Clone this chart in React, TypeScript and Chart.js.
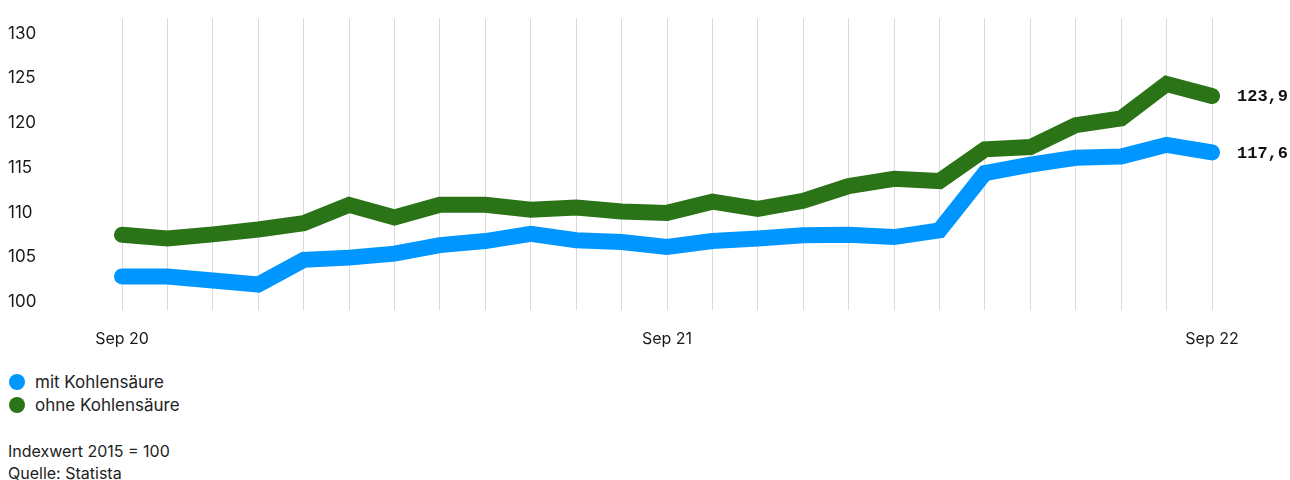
import React, { useEffect, useRef } from "react";
import { Chart, registerables } from "chart.js";

Chart.register(...registerables);

const months = [
  "Sep 20", "Okt 20", "Nov 20", "Dez 20", "Jan 21", "Feb 21", "Mär 21", "Apr 21", "Mai 21",
  "Jun 21", "Jul 21", "Aug 21", "Sep 21", "Okt 21", "Nov 21", "Dez 21", "Jan 22", "Feb 22",
  "Mär 22", "Apr 22", "Mai 22", "Jun 22", "Jul 22", "Aug 22", "Sep 22",
];
const shownLabels = ["Sep 20", "Sep 21", "Sep 22"];

const mitKohlensaeure = [
  103.75, 103.75, 103.3, 102.85, 105.6, 105.85, 106.3, 107.25, 107.7, 108.5, 107.8, 107.6, 107.05,
  107.7, 108.0, 108.35, 108.4, 108.15, 108.9, 115.3, 116.25, 117.0, 117.15, 118.45, 117.6,
];
const ohneKohlensaeure = [
  108.4, 108.0, 108.45, 109.0, 109.7, 111.75, 110.35, 111.75, 111.75, 111.2, 111.45, 111.0, 110.85,
  112.1, 111.3, 112.2, 113.85, 114.65, 114.4, 117.95, 118.2, 120.65, 121.4, 125.25, 123.9,
];
const yTicks = [100, 105, 110, 115, 120, 125, 130];

const seriesNames = ["mit Kohlensäure", "ohne Kohlensäure"];
const seriesColors = ["#0096ff", "#2a7316"];
const footnotes = ["Indexwert 2015 = 100", "Quelle: Statista"];

const FONT = "Inter, 'Noto Sans', sans-serif";

const endLabelPlugin = {
  id: "endLabels",
  afterDatasetsDraw(chart: any) {
    const ctx = chart.ctx;
    ctx.save();
    ctx.font = "bold 17px 'Liberation Mono', 'DejaVu Sans Mono', monospace";
    ctx.fillStyle = "#111";
    ctx.textAlign = "left";
    ctx.textBaseline = "middle";
    chart.data.datasets.forEach((ds: any, i: number) => {
      const meta = chart.getDatasetMeta(i);
      const last = meta.data[meta.data.length - 1];
      const v = ds.data[ds.data.length - 1] as number;
      ctx.fillText(v.toFixed(1).replace(".", ","), last.x + 25, last.y + 1);
    });
    ctx.restore();
  },
};

export default function App() {
  const ref = useRef<HTMLCanvasElement | null>(null);

  useEffect(() => {
    document.documentElement.style.overflow = "hidden";
    document.body.style.margin = "0";
    if (!ref.current) return;
    const chart = new Chart(ref.current, {
      type: "line",
      data: {
        labels: months,
        datasets: [
          {
            label: seriesNames[0],
            data: mitKohlensaeure,
            borderColor: seriesColors[0],
            backgroundColor: seriesColors[0],
            borderWidth: 16,
            borderCapStyle: "round",
            borderJoinStyle: "miter",
            pointRadius: 0,
            tension: 0,
          },
          {
            label: seriesNames[1],
            data: ohneKohlensaeure,
            borderColor: seriesColors[1],
            backgroundColor: seriesColors[1],
            borderWidth: 16,
            borderCapStyle: "round",
            borderJoinStyle: "miter",
            pointRadius: 0,
            tension: 0,
          },
        ],
      },
      options: {
        animation: false,
        responsive: true,
        maintainAspectRatio: false,
        layout: { padding: { top: 6, right: 78, left: 0, bottom: 0 } },
        plugins: {
          legend: { display: false },
          tooltip: { enabled: false },
        },
        scales: {
          x: {
            type: "category",
            offset: false,
            grid: { display: true, color: "#dadada", lineWidth: 1, drawTicks: false },
            border: { display: false },
            ticks: {
              autoSkip: false,
              maxRotation: 0,
              padding: 20,
              color: "#1a1a1a",
              font: { family: FONT, size: 16 },
              callback: (_v: any, i: number) =>
                shownLabels.includes(months[i]) ? months[i] : "",
            },
            afterFit: (scale: any) => {
              scale.height = 50;
            },
          },
          y: {
            min: 100,
            max: 132.6,
            grid: { display: false, drawTicks: false },
            border: { display: false },
            afterBuildTicks: (scale: any) => {
              scale.ticks = yTicks.map((v) => ({ value: v }));
            },
            afterFit: (scale: any) => {
              scale.width = 114;
            },
            ticks: {
              crossAlign: "far",
              labelOffset: -8,
              padding: 0,
              color: "#1a1a1a",
              font: { family: FONT, size: 17 },
            },
          },
        },
      },
      plugins: [endLabelPlugin],
    });
    return () => chart.destroy();
  }, []);

  const textStyle: React.CSSProperties = {
    fontFamily: FONT,
    color: "#222",
  };

  return (
    <div style={{ width: 1282, height: 472, padding: "8px 0 0 8px", margin: 0 }}>
      <div style={{ position: "relative", height: 352, width: 1282 }}>
        <canvas ref={ref} />
      </div>
      <div style={{ marginTop: 10, fontSize: 17, ...textStyle }}>
        {seriesNames.map((n, i) => (
          <div key={n} style={{ display: "flex", alignItems: "center", height: 23 }}>
            <span
              style={{
                display: "inline-block",
                width: 16,
                height: 16,
                borderRadius: "50%",
                background: seriesColors[i],
                marginLeft: 1,
                marginRight: 10,
              }}
            />
            <span>{n}</span>
          </div>
        ))}
      </div>
      <div style={{ marginTop: 24, fontSize: 16, ...textStyle }}>
        {footnotes.map((f) => (
          <div key={f} style={{ height: 22, lineHeight: "22px" }}>{f}</div>
        ))}
      </div>
    </div>
  );
}
